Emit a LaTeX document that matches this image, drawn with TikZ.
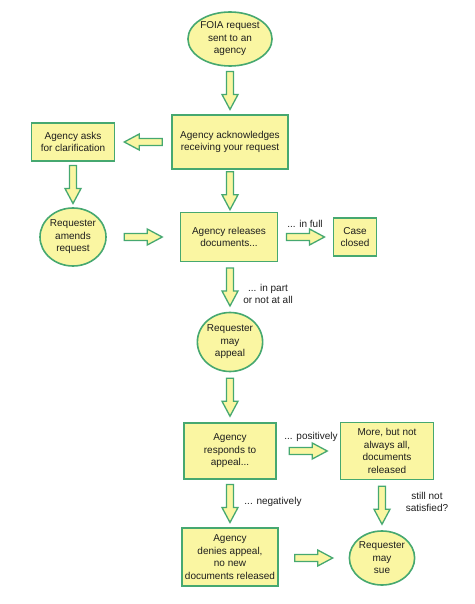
\documentclass[tikz,border=0pt]{standalone}
\usepackage{fontspec}
\setmainfont{Liberation Sans}
\usetikzlibrary{shapes.geometric,calc}
\definecolor{bord}{RGB}{70,168,112}
\definecolor{fillc}{RGB}{250,246,162}
\definecolor{txt}{RGB}{30,30,30}
\begin{document}
\begin{tikzpicture}[x=1pt,y=-1pt,
  every node/.style={font=\fontsize{10}{12.5}\selectfont, text=txt},
  box/.style={rectangle, draw=bord, fill=fillc, line width=1.6pt, align=center, inner sep=0pt},
  oval/.style={ellipse, draw=bord, fill=fillc, line width=1.6pt, align=center, inner sep=0pt},
  lbl/.style={align=center, inner sep=0pt},
  barrow/.style={draw=bord, fill=fillc, line width=1.3pt, line join=miter,
    to path={let \p1=(\tikztostart), \p2=(\tikztotarget), \n1={atan2(\y2-\y1,\x2-\x1)} in
      {[shift={($(\p1)!0.5!(\p2)$)}, rotate=\n1]
       (-19pt,-3.5pt) -- (4pt,-3.5pt) -- (4pt,-8pt) -- (19pt,0pt) -- (4pt,8pt) -- (4pt,3.5pt) -- (-19pt,3.5pt) -- cycle}}}
]
\fill[white] (0,0) rectangle (474,604);
\useasboundingbox (0,0) rectangle (474,604);

\node[oval, minimum width=84, minimum height=54] (foia) at (230,39) {FOIA request\\sent to an\\agency};
\node[box, minimum width=116, minimum height=54] (ack) at (230,142) {Agency acknowledges\\receiving your request};
\node[box, minimum width=83, minimum height=38] (asks) at (73,142) {Agency asks\\for clarification};
\node[oval, minimum width=66, minimum height=58] (amends) at (73,237) {Requester\\amends\\request};
\node[box, minimum width=97, minimum height=49] (rel) at (229,237) {Agency releases\\documents...};
\node[box, minimum width=43, minimum height=38] (closed) at (355,237) {Case\\closed};
\node[oval, minimum width=65, minimum height=59] (appeal) at (230,342) {Requester\\may\\appeal};
\node[box, minimum width=92, minimum height=56] (resp) at (230,451) {Agency\\responds to\\appeal...};
\node[box, minimum width=93, minimum height=57] (more) at (387,451) {More, but not\\always all,\\documents\\released};
\node[box, minimum width=96, minimum height=58] (deny) at (230,557) {Agency\\denies appeal,\\no new\\documents released};
\node[oval, minimum width=65, minimum height=54] (sue) at (382,558) {Requester\\may\\sue};

\node[lbl] (lfull) at (305,224) {... in full};
\node[lbl] (lpart) at (268,294) {... in part\\or not at all};
\node[lbl] (lpos) at (311,437) {... positively};
\node[lbl] (lneg) at (273,502) {... negatively};
\node[lbl] (lsat) at (427,502) {still not\\satisfied?};

\draw[barrow] (foia.south -| ack.north) to (ack.north);
\draw[barrow] (ack.west) to (ack.west -| asks.east);
\draw[barrow] (asks.south) to (asks.south |- amends.north);
\draw[barrow] (amends.east |- rel.west) to (rel.west);
\draw[barrow] (ack.south) to (ack.south |- rel.north);
\draw[barrow] (rel.east) to (rel.east -| closed.west);
\draw[barrow] (appeal.north |- rel.south) to (appeal.north);
\draw[barrow] (appeal.south) to (appeal.south |- resp.north);
\draw[barrow] (resp.east) to (resp.east -| more.west);
\draw[barrow] (resp.south) to (resp.south |- deny.north);
\draw[barrow] (sue.north |- more.south) to (sue.north);
\draw[barrow] (deny.east |- sue.west) to (sue.west);
\end{tikzpicture}
\end{document}
